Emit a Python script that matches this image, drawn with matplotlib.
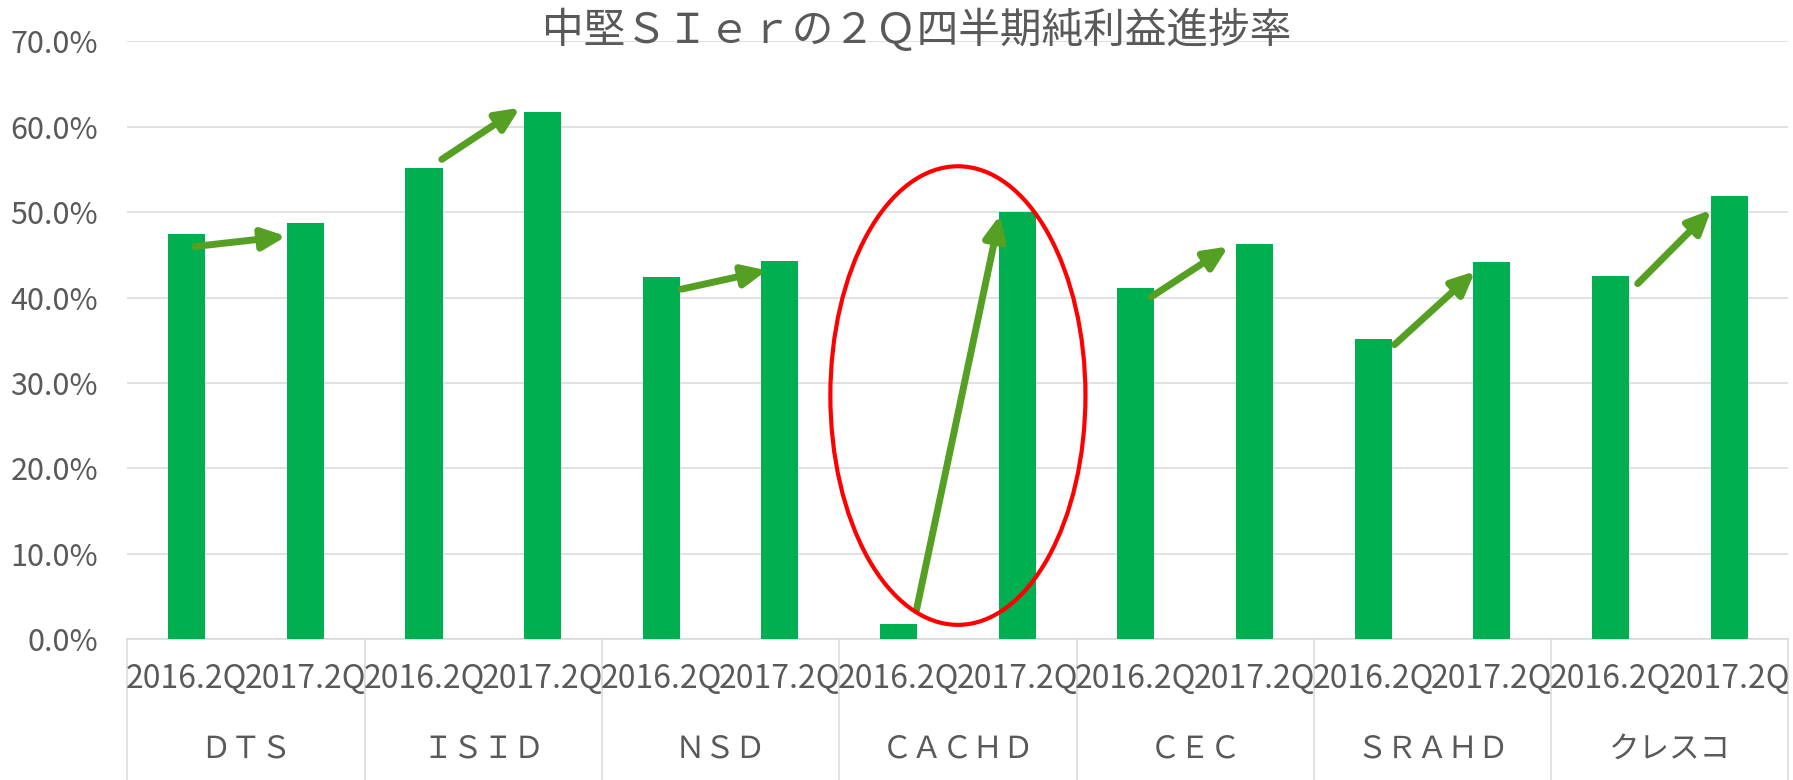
import matplotlib
matplotlib.use("Agg")

import numpy as np
import matplotlib.pyplot as plt
import matplotlib.transforms as mtransforms
from matplotlib.patches import Ellipse
from matplotlib.ticker import PercentFormatter

plt.rcParams['font.family'] = ['Noto Sans CJK JP', 'DejaVu Sans']

# === Data ===
title = "中堅ＳＩｅｒの２Ｑ四半期純利益進捗率"
companies = ["ＤＴＳ", "ＩＳＩＤ", "ＮＳＤ", "ＣＡＣＨＤ", "ＣＥＣ", "ＳＲＡＨＤ", "クレスコ"]
periods = ["2016.2Q", "2017.2Q"]
rate_2016 = [0.475, 0.552, 0.424, 0.018, 0.411, 0.352, 0.425]
rate_2017 = [0.487, 0.617, 0.443, 0.500, 0.463, 0.4415, 0.519]

# arrow offsets (x from bar centre, y from bar top) for the hand-drawn arrows
arrow_start_dx = [0.07, 0.15, 0.17, 0.15, 0.13, 0.18, 0.23]
arrow_start_dy = [-0.015, 0.010, -0.014, 0.016, -0.010, -0.007, -0.0085]
arrow_end_dx = [-0.16, -0.19, -0.11, -0.145, -0.22, -0.14, -0.15]
arrow_end_dy = [-0.015, 0.0055, -0.011, -0.003, -0.003, -0.0105, -0.016]

highlight = 3  # CACHD

GREEN = "#00B050"
ARROW = "#55A023"
GRID = "#D9D9D9"
TEXT = "#595959"

# === Layout ===
W, H = 1793, 780
fig = plt.figure(figsize=(W / 100, H / 100), dpi=100)
ax = fig.add_axes([127.4 / W, 1 - 639.3 / H, (1788.4 - 127.4) / W, (639.3 - 41.5) / H])

n = len(companies)
x16 = np.arange(n) * 2
x17 = x16 + 1
values = np.empty(2 * n)
values[0::2] = rate_2016
values[1::2] = rate_2017
xs = np.arange(2 * n)

ax.bar(xs, values, width=0.312, color=GREEN, zorder=3)

ax.set_xlim(-0.5, 2 * n - 0.5)
ax.set_ylim(0, 0.7)
ax.set_yticks(np.arange(0, 0.71, 0.1))
ax.yaxis.set_major_formatter(PercentFormatter(xmax=1, decimals=1))
ax.grid(axis='y', color=GRID, lw=1.1, zorder=0)
ax.tick_params(axis='y', length=0, pad=21, labelsize=22, labelcolor=TEXT)
ax.set_xticks([])
for s in ["top", "right", "left"]:
    ax.spines[s].set_visible(False)
ax.spines["bottom"].set_color(GRID)
ax.spines["bottom"].set_linewidth(1.1)

# === Two-level category axis ===
trans = mtransforms.blended_transform_factory(ax.transData, ax.transAxes)
for i, x in enumerate(xs):
    ax.text(x, -0.066, periods[i % 2], transform=trans, ha='center', va='center',
            fontsize=23, color=TEXT, clip_on=False)
for i, name in enumerate(companies):
    ax.text(2 * i + 0.5, -0.184, name, transform=trans, ha='center', va='center',
            fontsize=22, color=TEXT, clip_on=False)
for b in np.arange(-0.5, 2 * n, 2):
    ax.plot([b, b], [0, -0.24], transform=trans, color=GRID, lw=1.1, clip_on=False)

# === Arrows ===
for i in range(n):
    start = (x16[i] + arrow_start_dx[i], rate_2016[i] + arrow_start_dy[i])
    end = (x17[i] + arrow_end_dx[i], rate_2017[i] + arrow_end_dy[i])
    ax.annotate("", xy=end, xytext=start, zorder=5,
                arrowprops=dict(arrowstyle="-|>,head_length=0.7,head_width=0.32",
                                mutation_scale=20, lw=5, color=ARROW,
                                capstyle='round', shrinkA=0, shrinkB=0))

# === Highlight ellipse ===
ell = Ellipse((2 * highlight + 0.5, 0.2854), width=2.15, height=0.537,
              fill=False, edgecolor="#FF0000", lw=3, zorder=6)
ax.add_patch(ell)

fig.text(916.5 / W, 1 - 30 / H, title, ha='center', va='center',
         fontsize=30, color=TEXT)

fig.savefig("out.png", dpi=100)
